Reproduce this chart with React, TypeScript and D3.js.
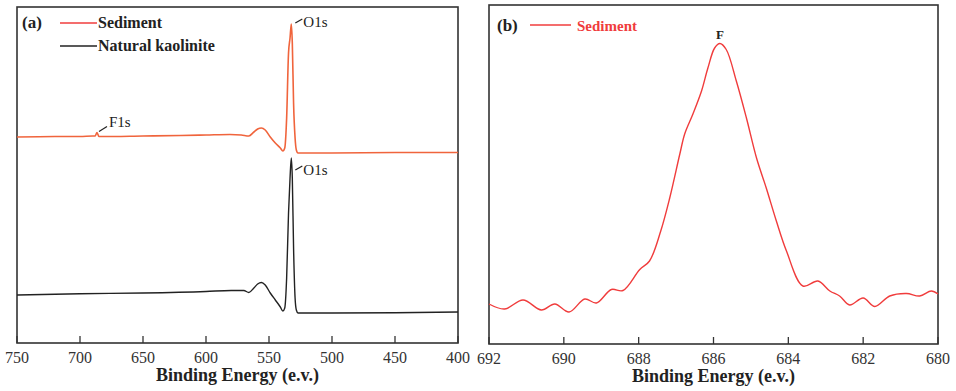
import * as d3 from 'd3'

// panel (a): survey spectra, binding energy (eV) vs intensity (a.u.)
const sedimentE = [750, 720, 700, 690, 688, 686.5, 685, 683, 650, 620, 600, 581, 572, 566, 562, 559, 556, 553, 549, 545, 541, 539, 537.5, 536, 534.5, 533.3, 532.3, 531.5, 530.5, 529.3, 528.3, 527, 520, 500, 450, 400]
const sedimentI = [206, 206.5, 206.5, 207, 207, 210.5, 206.5, 206.5, 207, 207.5, 208, 208.5, 208, 207, 211, 214, 215, 213, 206, 200, 195, 192, 195, 225, 290, 305, 319, 300, 240, 205, 193, 190, 190, 190, 190.5, 190.5]
const kaoliniteE = [750, 700, 650, 600, 580, 570, 566, 562, 559, 556, 553, 549, 545, 541, 539, 537.5, 536, 534.5, 533.3, 532.3, 531.5, 530.5, 529.3, 528.3, 527, 500, 450, 400]
const kaoliniteI = [48, 49.3, 50, 51.5, 52.5, 52.5, 50.5, 55, 59, 60.5, 58, 50, 43, 36, 32, 35, 65, 130, 165, 185, 165, 95, 45, 33, 30, 30, 30.3, 31]

// panel (b): F 1s high-resolution spectrum
const fE = [692, 691.58, 691.09, 690.6, 690.24, 689.86, 689.44, 689.13, 688.73, 688.42, 687.97, 687.71, 687.41, 687.17, 686.9, 686.77, 686.55, 686.32, 686.15, 685.97, 685.83, 685.66, 685.39, 685.12, 684.85, 684.59, 684.32, 684.05, 683.61, 683.21, 682.89, 682.63, 682.36, 682.0, 681.69, 681.29, 680.84, 680.49, 680.18, 680]
const fI = [40, 35, 44, 34, 40, 32, 45, 41, 54.5, 53.5, 74.5, 83, 113, 146, 190, 210, 230, 253, 276, 296, 300.5, 294.5, 263, 226, 186, 156, 123, 93, 58, 63, 53, 48, 39, 46, 37.5, 48, 50.5, 48, 53, 50]

const aTicks = [750, 700, 650, 600, 550, 500, 450, 400]
const bTicks = [692, 690, 688, 686, 684, 682, 680]

const FONT = '"Liberation Serif", "Times New Roman", serif'
const AXIS = '#333'
const ORANGE = '#f0643c'
const RED = '#f03c3c'

interface PanelProps { x0: number; x1: number; y0: number; y1: number; domain: [number, number]; ticks: number[] }

function Frame({ x0, x1, y0, y1, domain, ticks }: PanelProps) {
  const xs = d3.scaleLinear().domain(domain).range([x0, x1])
  return (
    <g>
      <rect x={x0} y={y0} width={x1 - x0} height={y1 - y0} fill="none" stroke={AXIS} strokeWidth={1.6} />
      {ticks.map((t) => (
        <g key={t}>
          <line x1={xs(t)} x2={xs(t)} y1={y1} y2={y1 - 7} stroke={AXIS} strokeWidth={1.3} />
          <text x={xs(t)} y={y1 + 20} textAnchor="middle" fontFamily={FONT} fontSize={16} fill="#333">{t}</text>
        </g>
      ))}
      <text x={(x0 + x1) / 2} y={y1 + 38} textAnchor="middle" fontFamily={FONT} fontSize={18} fontWeight="bold" fill="#222">Binding Energy (e.v.)</text>
    </g>
  )
}

export default function App() {
  const A = { x0: 17, x1: 458, y0: 7, y1: 343 }
  const B = { x0: 489, x1: 938, y0: 5, y1: 344 }

  const xa = d3.scaleLinear().domain([750, 400]).range([A.x0, A.x1])
  const ya = d3.scaleLinear().domain([0, 336]).range([A.y1, A.y0])
  const xb = d3.scaleLinear().domain([692, 680]).range([B.x0, B.x1])
  const yb = d3.scaleLinear().domain([0, 339]).range([B.y1, B.y0])

  const lineA = d3.line<[number, number]>().x((d) => xa(d[0])).y((d) => ya(d[1])).curve(d3.curveMonotoneX)
  const lineB = d3.line<[number, number]>().x((d) => xb(d[0])).y((d) => yb(d[1])).curve(d3.curveCatmullRom.alpha(0.5))

  const sed = sedimentE.map((e, i) => [e, sedimentI[i]] as [number, number]).reverse()
  const kao = kaoliniteE.map((e, i) => [e, kaoliniteI[i]] as [number, number]).reverse()
  const fl = fE.map((e, i) => [e, fI[i]] as [number, number])

  // annotation anchors from data
  const o1sSed = [xa(532.3), ya(319)]
  const o1sKao = [xa(532.3), ya(185)]
  const f1s = [xa(686.5), ya(210.5)]
  const fPeak = [xb(685.83), yb(300.5)]

  return (
    <svg width={956} height={391} style={{ position: 'absolute', left: 0, top: 0, background: '#fff' }}>
      <Frame {...A} domain={[750, 400]} ticks={aTicks} />
      <Frame {...B} domain={[692, 680]} ticks={bTicks} />

      <path d={lineA(sed) ?? ''} fill="none" stroke={ORANGE} strokeWidth={1.6} />
      <path d={lineA(kao) ?? ''} fill="none" stroke="#222" strokeWidth={1.4} />
      <path d={lineB(fl) ?? ''} fill="none" stroke={RED} strokeWidth={1.4} />

      {/* panel (a) labels */}
      <text x={22} y={28} fontFamily={FONT} fontSize={17} fontWeight="bold" fill="#222">(a)</text>
      <line x1={60} x2={97} y1={23} y2={23} stroke={RED} strokeWidth={1.4} />
      <text x={98} y={28} fontFamily={FONT} fontSize={16} fontWeight="bold" fill="#222">Sediment</text>
      <line x1={60} x2={97} y1={46} y2={46} stroke="#222" strokeWidth={1.4} />
      <text x={98} y={51} fontFamily={FONT} fontSize={16} fontWeight="bold" fill="#222">Natural kaolinite</text>

      <line x1={o1sSed[0] + 4} x2={o1sSed[0] + 11} y1={o1sSed[1] - 1} y2={o1sSed[1] - 5} stroke="#222" strokeWidth={1.2} />
      <text x={o1sSed[0] + 12} y={o1sSed[1] + 3} fontFamily={FONT} fontSize={15} fill="#222">O1s</text>
      <line x1={o1sKao[0] + 4} x2={o1sKao[0] + 11} y1={o1sKao[1] + 12} y2={o1sKao[1] + 8} stroke="#222" strokeWidth={1.2} />
      <text x={o1sKao[0] + 12} y={o1sKao[1] + 17} fontFamily={FONT} fontSize={15} fill="#222">O1s</text>
      <line x1={f1s[0] + 2} x2={f1s[0] + 10} y1={f1s[1] - 1} y2={f1s[1] - 6} stroke="#222" strokeWidth={1.2} />
      <text x={f1s[0] + 12} y={f1s[1] - 6} fontFamily={FONT} fontSize={15} fill="#222">F1s</text>

      {/* panel (b) labels */}
      <text x={497} y={31} fontFamily={FONT} fontSize={17} fontWeight="bold" fill="#222">(b)</text>
      <line x1={530} x2={571} y1={25} y2={25} stroke={RED} strokeWidth={1.4} />
      <text x={577} y={31} fontFamily={FONT} fontSize={15} fontWeight="bold" fill={RED}>Sediment</text>
      <text x={fPeak[0]} y={fPeak[1] - 5} textAnchor="middle" fontFamily={FONT} fontSize={13} fontWeight="bold" fill="#222">F</text>
    </svg>
  )
}
